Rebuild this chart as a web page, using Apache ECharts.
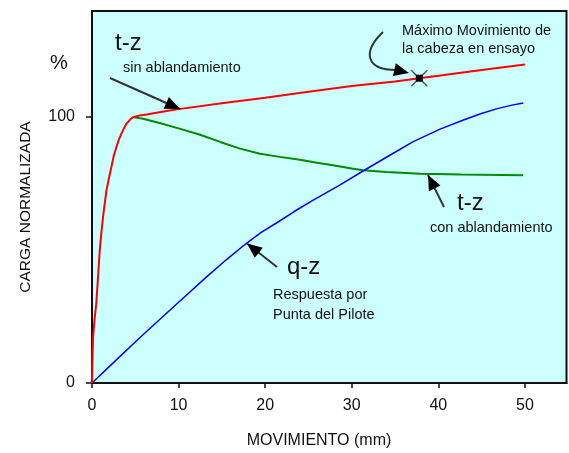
<!DOCTYPE html>
<html><head><meta charset="utf-8">
<script src="https://cdn.jsdelivr.net/npm/echarts@6/dist/echarts.min.js"></script>
<style>html,body{margin:0;padding:0;background:#fff}#c{width:569px;height:453px}</style>
</head><body><div id="c"></div>
<script>
// ---- data ----
const xTicks = [0, 10, 20, 30, 40, 50];
const yTicks = [0, 100];
// t-z sin ablandamiento (red)
const sinAblandamiento = [[0,0],[0.05,8],[0.12,17],[0.3,24],[0.5,30],[0.7,40],[0.9,50],[1.1,57],[1.3,63],[1.66,72],[2.0,77.5],[2.24,81],[2.5,85],[2.82,88.5],[3.1,91.3],[3.4,93.5],[3.7,95.6],[4.0,97.3],[4.4,98.8],[4.75,99.7],[5.5,100.3],[6.3,100.7],[8.6,102],[10,102.7],[15,104.9],[20,107],[25,109.2],[30,111.4],[35,113.1],[37.8,114.3],[40,115.2],[45,117.4],[50,119.4]];
// t-z con ablandamiento (green)
const conAblandamiento = [[4.75,99.7],[5.9,99.1],[7.8,97.5],[10.1,95.4],[12.4,93.2],[14.8,90.4],[17.1,87.9],[19.4,86],[21.7,84.8],[24,83.7],[26,82.6],[28,81.6],[30,80.4],[31.3,79.8],[34,79.1],[37.9,78.5],[42.7,78.2],[49.8,77.9]];
// q-z respuesta por punta (blue)
const puntaPilote = [[0,0],[2.6,8],[5.3,16.3],[8,24.4],[10,30.3],[13.2,39.7],[15.5,46.2],[17.8,52.3],[19.5,56.4],[21.3,60],[23.4,64.4],[25.5,68.5],[28.6,74.2],[31.3,79.5],[34.4,85.4],[37.1,90.5],[40.2,95.2],[42.9,98.6],[44.8,100.9],[46.7,102.8],[48.5,104.2],[49.8,105]];
// max movement of the head in the test
const maxMovimiento = [[37.8,114.3]];

const FONT = '"Liberation Sans", Arial, sans-serif';
const TXT = '#111';

function txt(x, y, text, size, opts) {
  opts = opts || {};
  return {
    type: 'text', x: x, y: y, rotation: opts.rotation || 0, z: 100,
    style: { text: text, fill: TXT, font: size + 'px ' + FONT,
      align: opts.align || 'left', verticalAlign: 'middle' }
  };
}
function head(tx, ty, fx, fy, len, hw) {
  const dx = tx - fx, dy = ty - fy, d = Math.hypot(dx, dy);
  const ux = dx / d, uy = dy / d;
  const bx = tx - ux * len, by = ty - uy * len;
  return { type: 'polygon', z: 100, shape: { points: [[tx, ty], [bx - uy * hw, by + ux * hw], [bx + uy * hw, by - ux * hw]] }, style: { fill: '#000' } };
}
function arrow(fx, fy, tx, ty) {
  return [
    { type: 'line', z: 100, shape: { x1: fx, y1: fy, x2: tx, y2: ty }, style: { stroke: '#333', lineWidth: 2 } },
    head(tx, ty, fx, fy, 15, 6.5)
  ];
}

const graphics = [].concat(
  [txt(50, 63, '%', 20)],
  [txt(26, 207, 'CARGA NORMALIZADA', 15.5, { rotation: Math.PI / 2, align: 'center' })],
  [txt(319, 441, 'MOVIMIENTO (mm)', 16, { align: 'center' })],
  [txt(115, 43, 't-z', 24), txt(123, 68, 'sin ablandamiento', 14.5)],
  arrow(110, 78, 180, 109),
  [txt(402, 30.5, 'Máximo Movimiento de', 14.5), txt(402, 49, 'la cabeza en ensayo', 14.5)],
  [{ type: 'bezierCurve', z: 100, shape: { x1: 383, y1: 32, cpx1: 362, cpy1: 52, cpx2: 366, cpy2: 70, x2: 396, y2: 70 }, style: { stroke: '#333', lineWidth: 2, fill: null } },
   head(409, 73, 394, 69.5, 15, 6.5)],
  [txt(457, 203, 't-z', 24), txt(430, 227.5, 'con ablandamiento', 14.5)],
  arrow(444, 207, 428, 175),
  [txt(287, 267.5, 'q-z', 24), txt(273, 295, 'Respuesta por', 14.5), txt(273, 315, 'Punta del Pilote', 14.5)],
  arrow(277, 267, 247, 243.5)
);

const chart = echarts.init(document.getElementById('c'), null, { renderer: 'canvas' });
chart.setOption({
  animation: false,
  backgroundColor: '#ffffff',
  grid: { left: 92, right: 2.5, top: 11, bottom: 70, show: true, backgroundColor: '#ccffff', borderColor: '#111', borderWidth: 2 },
  xAxis: {
    type: 'value', min: 0, max: 54.8, interval: 10,
    axisLine: { show: true, onZero: false, lineStyle: { color: '#111', width: 2 } },
    axisTick: { show: true, length: 5, customValues: xTicks, lineStyle: { color: '#111', width: 1.5 } },
    axisLabel: { customValues: xTicks, margin: 15, fontSize: 16, fontFamily: FONT, color: TXT },
    splitLine: { show: false }
  },
  yAxis: {
    type: 'value', min: 0, max: 139.5, interval: 100,
    axisLine: { show: true, onZero: false, lineStyle: { color: '#111', width: 2 } },
    axisTick: { show: true, length: 6, customValues: yTicks, lineStyle: { color: '#111', width: 1.5 } },
    axisLabel: { customValues: yTicks, margin: 17, fontSize: 16, fontFamily: FONT, color: TXT },
    splitLine: { show: false }
  },
  series: [
    { name: 't-z con ablandamiento', type: 'line', data: conAblandamiento, showSymbol: false, lineStyle: { color: '#008a00', width: 2 }, z: 3 },
    { name: 'q-z', type: 'line', data: puntaPilote, showSymbol: false, lineStyle: { color: '#0000ff', width: 1.5 }, z: 3 },
    { name: 't-z sin ablandamiento', type: 'line', data: sinAblandamiento, showSymbol: false, lineStyle: { color: '#ff0000', width: 2 }, z: 4 },
    { name: 'Máximo Movimiento', type: 'custom', data: maxMovimiento, z: 10,
      renderItem: function (params, api) {
        const p = api.coord([api.value(0), api.value(1)]);
        const r = 8;
        return { type: 'group', children: [
          { type: 'line', shape: { x1: p[0] - r, y1: p[1] - r, x2: p[0] + r, y2: p[1] + r }, style: { stroke: '#555', lineWidth: 1.5 } },
          { type: 'line', shape: { x1: p[0] - r, y1: p[1] + r, x2: p[0] + r, y2: p[1] - r }, style: { stroke: '#555', lineWidth: 1.5 } },
          { type: 'rect', shape: { x: p[0] - 3.5, y: p[1] - 3.5, width: 7, height: 7 }, style: { fill: '#000' } }
        ] };
      } }
  ],
  graphic: graphics
});
</script>
</body></html>
